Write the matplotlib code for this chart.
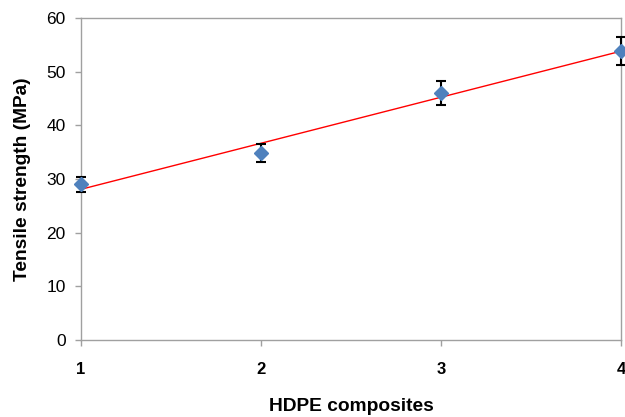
import matplotlib
matplotlib.use("Agg")
import matplotlib.pyplot as plt
import numpy as np

plt.rcParams['font.family'] = ['Liberation Sans', 'DejaVu Sans']

composites = [1, 2, 3, 4]
tensile = [29.0, 34.9, 46.0, 53.9]
tensile_err = [1.4, 1.7, 2.2, 2.6]
yticks = [0, 10, 20, 30, 40, 50, 60]

fig = plt.figure(figsize=(6.25, 4.17), dpi=100)
ax = fig.add_axes([0.1296, 0.1847, 0.8640, 0.7721])

x = np.array(composites, dtype=float)
y = np.array(tensile)
coef = np.polyfit(x, y, 1)
ax.plot(x, np.polyval(coef, x), color='#FF0000', lw=1.0, zorder=2, clip_on=False)

ax.errorbar(x, y, yerr=tensile_err, fmt='none', ecolor='black', elinewidth=1.5,
            capsize=3.3, capthick=1.5, zorder=3, clip_on=False)
ax.plot(x, y, linestyle='none', marker='D', markersize=7.5, color='#4F81BD',
        markeredgecolor='#4F81BD', zorder=4, clip_on=False)

ax.set_xlim(1, 4)
ax.set_ylim(0, 60)
ax.set_xticks(composites)
ax.set_xticklabels([str(c) for c in composites], fontweight='bold', fontsize=12)
ax.set_yticks(yticks)
ax.set_yticklabels([str(t) for t in yticks], fontsize=12.5)

for s in ax.spines.values():
    s.set_color('#A0A0A0')
    s.set_linewidth(1.0)
ax.tick_params(axis='both', color='#A0A0A0', length=4, width=1.0)
ax.tick_params(axis='x', pad=12)
ax.tick_params(axis='y', pad=7)

ax.set_xlabel('HDPE composites', fontweight='bold', fontsize=13.8, labelpad=15)
ax.set_ylabel('Tensile strength (MPa)', fontweight='bold', fontsize=13.8, labelpad=11)

fig.savefig('out.png', dpi=100, facecolor='white')
